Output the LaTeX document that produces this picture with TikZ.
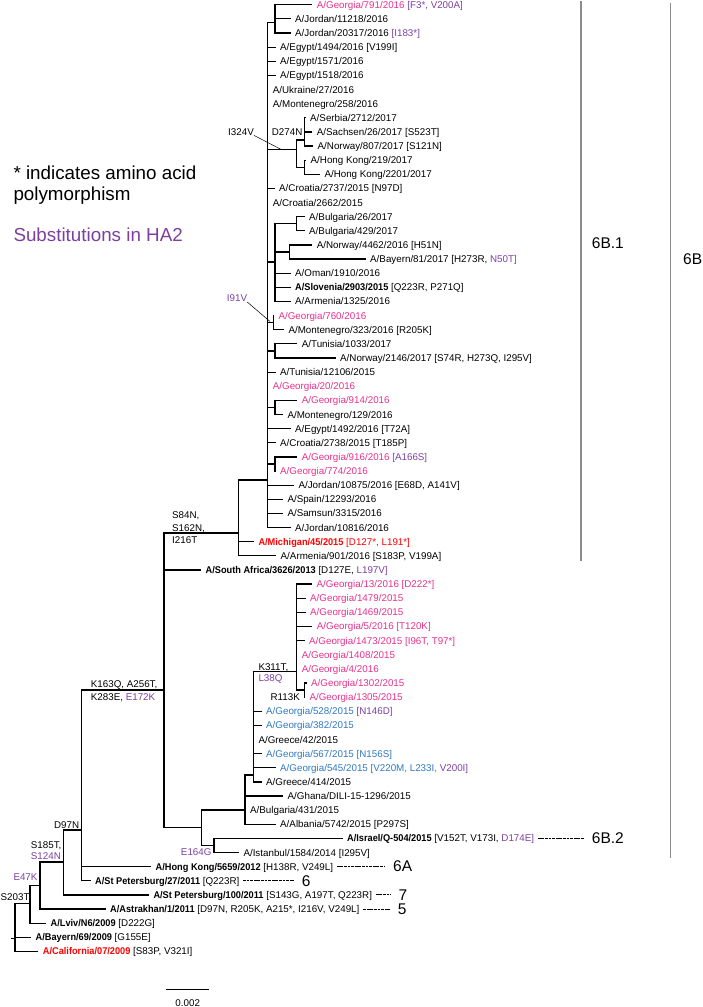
\documentclass[tikz,border=0pt]{standalone}
\usepackage{fontspec}
\setmainfont{Liberation Sans}
\usepackage{graphicx}
\usepackage{tikz}
\usepackage{xcolor}
\definecolor{geomag}{HTML}{E8308C}
\definecolor{geoblue}{HTML}{2F78C0}
\definecolor{hatwo}{HTML}{7B3FA0}
\definecolor{refred}{HTML}{FF0000}
\definecolor{bargray}{HTML}{8C8C8C}
\newcommand\treefont{\fontsize{9.8}{11.8}\selectfont}
\newcommand\cladefont{\fontsize{15.5}{18}\selectfont}
\newcommand\notefont{\fontsize{18.8}{21}\selectfont}
\newcommand\strain[1]{\scalebox{0.94}[1]{\textbf{#1}}}

\begin{document}
\begin{tikzpicture}[x=1pt,y=-1pt,
                    br/.style={black,line width=1.2pt,line cap=rect},
                    leaf/.style={anchor=west,inner xsep=5pt,inner ysep=0pt,text height=7pt,text depth=0pt,font=\treefont},
                    mut/.style={inner sep=0pt,text height=7pt,text depth=0pt,font=\treefont},
                    clade/.style={anchor=west,inner sep=0pt,font=\cladefont},
                    note/.style={anchor=base west,inner sep=0pt,font=\notefont},
                    cladedash/.style={black,line width=0.9pt,dash pattern=on 2.8pt off 0.8pt,shorten <=-1.5pt,shorten >=8pt},
                    lead/.style={black,line width=0.5pt},
                    bar/.style={bargray,line width=1.3pt}]
                    \useasboundingbox (0,0) rectangle (702,1007);

                    \node[note] (nStar) at (13.3,179.3) {* indicates amino acid};
                    \node[note] (nPoly) at (13.3,200.3) {polymorphism};
                    \node[note,text=hatwo] (nHA2) at (13.3,241.7) {Substitutions in HA2};

                    \node[leaf] (geo791) at (311.7,4.7) {{\color{geomag}A/Georgia/791/2016} {\color{hatwo}[F3*, V200A]}};
                    \node[leaf] (jor11218) at (290,18.8) {A/Jordan/11218/2016};
                    \node[leaf] (jor20317) at (290,33.0) {A/Jordan/20317/2016 {\color{hatwo}[I183*]}};
                    \node[leaf] (egy1494) at (275,47.1) {A/Egypt/1494/2016 [V199I]};
                    \node[leaf] (egy1571) at (275,61.2) {A/Egypt/1571/2016};
                    \node[leaf] (egy1518) at (275,75.4) {A/Egypt/1518/2016};
                    \node[leaf] (ukr27) at (267.7,89.5) {A/Ukraine/27/2016};
                    \node[leaf] (mon258) at (267.7,103.6) {A/Montenegro/258/2016};
                    \node[leaf] (ser2712) at (305,117.7) {A/Serbia/2712/2017};
                    \node[leaf] (sac26) at (311.7,131.9) {A/Sachsen/26/2017 [S523T]};
                    \node[leaf] (nor807) at (312.5,146.0) {A/Norway/807/2017 [S121N]};
                    \node[leaf] (hk219) at (305.5,160.1) {A/Hong Kong/219/2017};
                    \node[leaf] (hk2201) at (319.3,174.3) {A/Hong Kong/2201/2017};
                    \node[leaf] (cro2737) at (274,188.4) {A/Croatia/2737/2015 [N97D]};
                    \node[leaf] (cro2662) at (267.7,202.5) {A/Croatia/2662/2015};
                    \node[leaf] (bul26) at (304,216.7) {A/Bulgaria/26/2017};
                    \node[leaf] (bul429) at (304,230.8) {A/Bulgaria/429/2017};
                    \node[leaf] (nor4462) at (311.7,244.9) {A/Norway/4462/2016 [H51N]};
                    \node[leaf] (bay81) at (365,259.0) {A/Bayern/81/2017 [H273R, {\color{hatwo}N50T]}};
                    \node[leaf] (oma1910) at (290,273.2) {A/Oman/1910/2016};
                    \node[leaf] (slo2903) at (290,287.3) {\strain{A/Slovenia/2903/2015} [Q223R, P271Q]};
                    \node[leaf] (arm1325) at (290,301.4) {A/Armenia/1325/2016};
                    \node[leaf] (geo760) at (273.3,315.6) {\color{geomag}A/Georgia/760/2016};
                    \node[leaf] (mon323) at (283.3,329.7) {A/Montenegro/323/2016 [R205K]};
                    \node[leaf] (tun1033) at (296.7,343.8) {A/Tunisia/1033/2017};
                    \node[leaf] (nor2146) at (335,358.0) {A/Norway/2146/2017 [S74R, H273Q, I295V]};
                    \node[leaf] (tun12106) at (275,372.1) {A/Tunisia/12106/2015};
                    \node[leaf] (geo20) at (267.7,386.2) {\color{geomag}A/Georgia/20/2016};
                    \node[leaf] (geo914) at (296.7,400.3) {\color{geomag}A/Georgia/914/2016};
                    \node[leaf] (mon129) at (282.3,414.5) {A/Montenegro/129/2016};
                    \node[leaf] (egy1492) at (290,428.6) {A/Egypt/1492/2016 [T72A]};
                    \node[leaf] (cro2738) at (275,442.7) {A/Croatia/2738/2015 [T185P]};
                    \node[leaf] (geo916) at (296.7,456.9) {{\color{geomag}A/Georgia/916/2016} {\color{hatwo}[A166S]}};
                    \node[leaf] (geo774) at (275,471.0) {\color{geomag}A/Georgia/774/2016};
                    \node[leaf] (jor10875) at (293.3,485.1) {A/Jordan/10875/2016 [E68D, A141V]};
                    \node[leaf] (spa12293) at (282.3,499.3) {A/Spain/12293/2016};
                    \node[leaf] (sam3315) at (282.3,513.4) {A/Samsun/3315/2016};
                    \node[leaf] (jor10816) at (290,527.5) {A/Jordan/10816/2016};
                    \node[leaf] (mic45) at (253.3,541.6) {\color{refred}\strain{A/Michigan/45/2015} [D127*, L191*]};
                    \node[leaf] (arm901) at (275.5,555.8) {A/Armenia/901/2016 [S183P, V199A]};
                    \node[leaf] (saf3626) at (200.5,569.9) {\strain{A/South Africa/3626/2013} [D127E, {\color{hatwo}L197V]}};
                    \node[leaf] (geo13) at (311.5,584.0) {\color{geomag}A/Georgia/13/2016 [D222*]};
                    \node[leaf] (geo1479) at (305,598.2) {\color{geomag}A/Georgia/1479/2015};
                    \node[leaf] (geo1469) at (305,612.3) {\color{geomag}A/Georgia/1469/2015};
                    \node[leaf] (geo5) at (311.7,626.4) {\color{geomag}A/Georgia/5/2016 [T120K]};
                    \node[leaf] (geo1473) at (304,640.6) {\color{geomag}A/Georgia/1473/2015 [I96T, T97*]};
                    \node[leaf] (geo1408) at (296.7,654.7) {\color{geomag}A/Georgia/1408/2015};
                    \node[leaf] (geo4) at (296.7,668.8) {\color{geomag}A/Georgia/4/2016};
                    \node[leaf] (geo1302) at (306,682.9) {\color{geomag}A/Georgia/1302/2015};
                    \node[leaf] (geo1305) at (304.3,697.1) {\color{geomag}A/Georgia/1305/2015};
                    \node[leaf] (geo528) at (261,711.2) {{\color{geoblue}A/Georgia/528/2015} {\color{hatwo}[N146D]}};
                    \node[leaf] (geo382) at (261,725.3) {\color{geoblue}A/Georgia/382/2015};
                    \node[leaf] (grc42) at (253.3,739.5) {A/Greece/42/2015};
                    \node[leaf] (geo567) at (261,753.6) {\color{geoblue}A/Georgia/567/2015 [N156S]};
                    \node[leaf] (geo545) at (275,767.7) {{\color{geoblue}A/Georgia/545/2015 [V220M, L233I,} {\color{hatwo}V200I]}};
                    \node[leaf] (grc414) at (261,781.9) {A/Greece/414/2015};
                    \node[leaf] (gha1296) at (282.5,796.0) {A/Ghana/DILI-15-1296/2015};
                    \node[leaf] (bul431) at (245,810.1) {A/Bulgaria/431/2015};
                    \node[leaf] (alb5742) at (275,824.2) {A/Albania/5742/2015 [P297S]};
                    \node[leaf] (isr504) at (342,838.4) {\strain{A/Israel/Q-504/2015} [V152T, V173I, {\color{hatwo}D174E]}};
                    \node[leaf] (ist1584) at (238.3,852.5) {A/Istanbul/1584/2014 [I295V]};
                    \node[leaf] (hk5659) at (150.5,866.6) {\strain{A/Hong Kong/5659/2012} [H138R, V249L]};
                    \node[leaf] (stp27) at (90,880.8) {\strain{A/St Petersburg/27/2011} [Q223R]};
                    \node[leaf] (stp100) at (148.3,894.9) {\strain{A/St Petersburg/100/2011} [S143G, A197T, Q223R]};
                    \node[leaf] (ast1) at (105,909.0) {\strain{A/Astrakhan/1/2011} [D97N, R205K, A215*, I216V, V249L]};
                    \node[leaf] (lvi6) at (45.5,923.2) {\strain{A/Lviv/N6/2009} [D222G]};
                    \node[leaf] (bay69) at (30.5,937.3) {\strain{A/Bayern/69/2009} [G155E]};
                    \node[leaf] (cal07) at (37.7,951.4) {{\color{refred}\strain{A/California/07/2009}} [S83P, V321I]};

                    \coordinate (rootstub) at (11.7,938.3);
                    \coordinate (croot) at (15,938.3);
                    \coordinate (cS203T) at (30,903.5);
                    \coordinate (cE47K) at (40,885.5);
                    \coordinate (cS185T) at (63.3,862);
                    \coordinate (cD97N) at (81.7,830);
                    \coordinate (c6B) at (164,690);
                    \coordinate (c6B1) at (238.3,533);
                    \coordinate (c6B1core) at (267.7,480);
                    \coordinate (cJor) at (275,22.7);
                    \coordinate (cI324V) at (296.7,149.4);
                    \coordinate (cD274N) at (304.3,140);
                    \coordinate (cHK) at (304.3,167.2);
                    \coordinate (cOman) at (275,262);
                    \coordinate (cBulg) at (296.7,223.7);
                    \coordinate (cNor) at (289.3,252);
                    \coordinate (cI91V) at (273.3,322.6);
                    \coordinate (cTun) at (275,351);
                    \coordinate (cGeo914) at (275,407.4);
                    \coordinate (cGeo916) at (275,464);
                    \coordinate (c6B2) at (201.7,827.7);
                    \coordinate (cE164G) at (214,845.4);
                    \coordinate (cGrc) at (245,810);
                    \coordinate (cGeoB) at (253.3,775);
                    \coordinate (cK311T) at (296.7,671.7);
                    \coordinate (cR113K) at (304.3,690);

                    \draw[br] (rootstub) -- (croot);
                    \foreach \c in {cS203T,bay69.west,cal07.west} \draw[br] (croot) |- (\c);
                    \foreach \c in {cE47K,lvi6.west} \draw[br] (cS203T) |- (\c);
                    \foreach \c in {cS185T,ast1.west} \draw[br] (cE47K) |- (\c);
                    \foreach \c in {cD97N,stp100.west} \draw[br] (cS185T) |- (\c);
                    \foreach \c in {c6B,hk5659.west,stp27.west} \draw[br] (cD97N) |- (\c);
                    \foreach \c in {c6B1,saf3626.west,c6B2} \draw[br] (c6B) |- (\c);
                    \foreach \c in {c6B1core,mic45.west,arm901.west} \draw[br] (c6B1) |- (\c);
                    \foreach \c in {cJor,egy1494.west,egy1571.west,egy1518.west,ukr27.west,mon258.west,cI324V,
                                    cro2737.west,cro2662.west,cOman,cI91V,cTun,tun12106.west,geo20.west,cGeo914,
                                    egy1492.west,cro2738.west,cGeo916,jor10875.west,spa12293.west,sam3315.west,jor10816.west}
                        \draw[br] (c6B1core) |- (\c);
                    \foreach \c in {geo791,jor11218,jor20317} \draw[br] (cJor) |- (\c.west);
                    \foreach \c in {cD274N,cHK} \draw[br] (cI324V) |- (\c);
                    \foreach \c in {ser2712,sac26,nor807} \draw[br] (cD274N) |- (\c.west);
                    \foreach \c in {hk219,hk2201} \draw[br] (cHK) |- (\c.west);
                    \foreach \c in {cBulg,cNor,oma1910.west,slo2903.west,arm1325.west} \draw[br] (cOman) |- (\c);
                    \foreach \c in {bul26,bul429} \draw[br] (cBulg) |- (\c.west);
                    \foreach \c in {nor4462,bay81} \draw[br] (cNor) |- (\c.west);
                    \foreach \c in {geo760,mon323} \draw[br] (cI91V) |- (\c.west);
                    \foreach \c in {tun1033,nor2146} \draw[br] (cTun) |- (\c.west);
                    \foreach \c in {geo914,mon129} \draw[br] (cGeo914) |- (\c.west);
                    \foreach \c in {geo916,geo774} \draw[br] (cGeo916) |- (\c.west);
                    \foreach \c in {cGrc,cE164G} \draw[br] (c6B2) |- (\c);
                    \foreach \c in {isr504,ist1584} \draw[br] (cE164G) |- (\c.west);
                    \foreach \c in {cGeoB,gha1296.west,bul431.west,alb5742.west} \draw[br] (cGrc) |- (\c);
                    \foreach \c in {cK311T,geo528.west,geo382.west,grc42.west,geo567.west,geo545.west,grc414.west}
                        \draw[br] (cGeoB) |- (\c);
                    \foreach \c in {geo13,geo1479,geo1469,geo5,geo1473,geo1408,geo4} \draw[br] (cK311T) |- (\c.west);
                    \draw[br] (cK311T) |- (cR113K);
                    \foreach \c in {geo1302,geo1305} \draw[br] (cR113K) |- (\c.west);

                    \node[mut,anchor=west] (mI324V) at (228,131.7) {I324V};
                    \node[mut,anchor=west] (mD274N) at (271.7,131.7) {D274N};
                    \node[mut,anchor=west,text=hatwo] (mI91V) at (226.7,298.3) {I91V};
                    \node[mut,anchor=west] (mS84N) at (172,515) {S84N,};
                    \node[mut,anchor=west] (mS162N) at (172,527.5) {S162N,};
                    \node[mut,anchor=west] (mI216T) at (172,539.5) {I216T};
                    \node[mut,anchor=west] (mK163Q) at (90.7,684) {K163Q, A256T,};
                    \node[mut,anchor=west] (mK283E) at (90.7,696.7) {K283E, {\color{hatwo}E172K}};
                    \node[mut,anchor=west] (mK311T) at (258.3,666.7) {K311T,};
                    \node[mut,anchor=west,text=hatwo] (mL38Q) at (258.3,678.3) {L38Q};
                    \node[mut,anchor=east] (mR113K) at (300,696.7) {R113K};
                    \node[mut,anchor=east,text=hatwo] (mE164G) at (211.7,852.3) {E164G};
                    \node[mut,anchor=east] (mD97N) at (79.3,825) {D97N};
                    \node[mut,anchor=west] (mS185T) at (30.7,845) {S185T,};
                    \node[mut,anchor=west,text=hatwo] (mS124N) at (30.7,856) {S124N};
                    \node[mut,anchor=west,text=hatwo] (mE47K) at (13.3,877.3) {E47K};
                    \node[mut,anchor=west] (mS203T) at (0.5,897.3) {S203T};

                    \coordinate (pI324V) at (281,149.4);
                    \coordinate (pI91V) at (270,321.5);
                    \draw[lead] (mI324V.south east) -- (pI324V);
                    \draw[lead] (mI91V.south east) -- (pI91V);

                    \node[clade] (k6A) at (393,866.6) {6A};
                    \node[clade] (k6) at (301.7,880.8) {6};
                    \node[clade] (k7) at (398.3,894.9) {7};
                    \node[clade] (k5) at (397.7,909.0) {5};
                    \node[clade] (k6B2) at (591.7,838.4) {6B.2};
                    \node[clade] (k6B1) at (591.7,243) {6B.1};
                    \node[clade] (k6B) at (683,259) {6B};
                    \draw[cladedash] (hk5659.east) -- (k6A.west);
                    \draw[cladedash] (stp27.east) -- (k6.west);
                    \draw[cladedash] (stp100.east) -- (k7.west);
                    \draw[cladedash] (ast1.east) -- (k5.west);
                    \draw[cladedash] (isr504.east) -- (k6B2.west);

                    \draw[bar] (581,0.5) -- (581,561);
                    \draw[bar] (670.7,3) -- (670.7,857.5);

                    \coordinate (sL) at (166,989.3);
                    \coordinate (sR) at (209.3,989.3);
                    \draw[br,line cap=butt] (sL) -- (sR);
                    \node[mut] (sLab) at (187.7,1003.3) {0.002};
                \end{tikzpicture}
\end{document}
